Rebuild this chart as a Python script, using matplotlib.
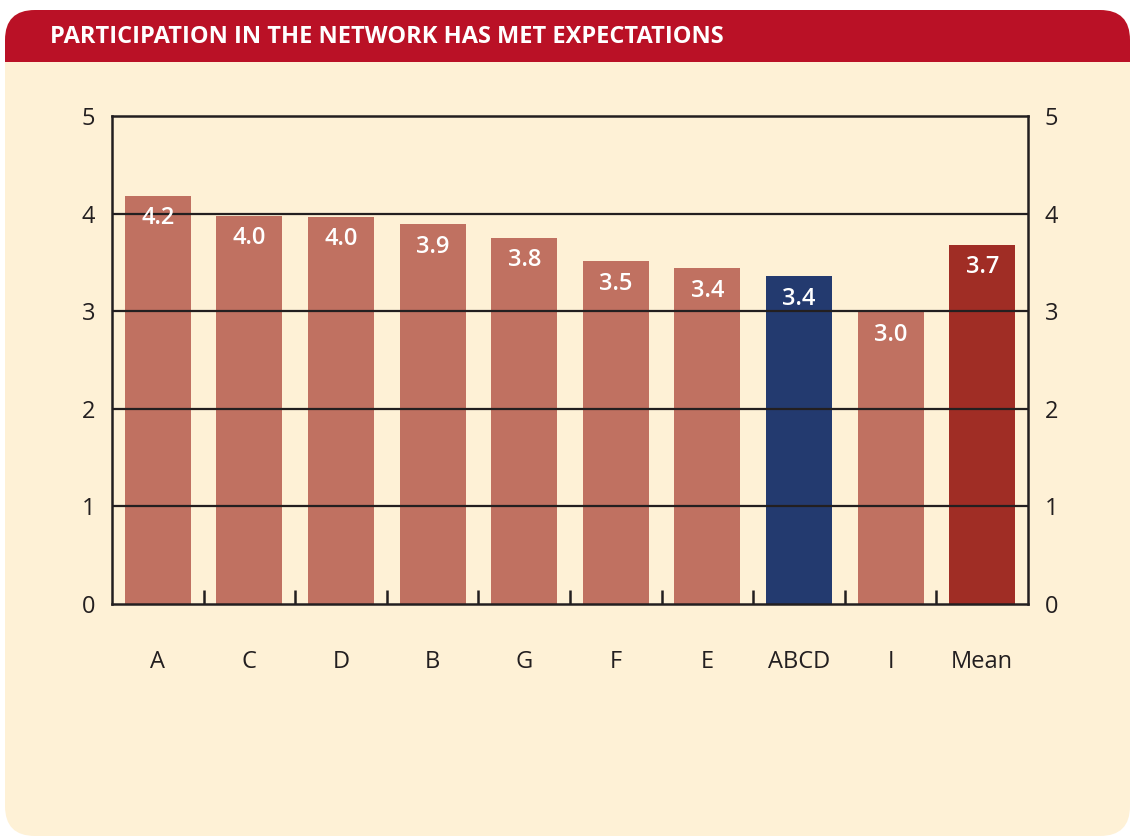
import numpy as np
import matplotlib
matplotlib.use('Agg')
import matplotlib.pyplot as plt
from matplotlib.patches import FancyBboxPatch, Rectangle

#%% Data
categories = ['A', 'C', 'D', 'B', 'G', 'F', 'E', 'ABCD', 'I', 'Mean']
values = [4.18, 3.98, 3.97, 3.89, 3.75, 3.51, 3.44, 3.36, 2.99, 3.68]
labels = ['4.2', '4.0', '4.0', '3.9', '3.8', '3.5', '3.4', '3.4', '3.0', '3.7']
title = 'PARTICIPATION IN THE NETWORK HAS MET EXPECTATIONS'

#%% Colours
cream = '#FEF1D6'
red = '#BA1126'
bar_c = '#C07161'
blue_c = '#233A6F'
mean_c = '#A02D25'
ink = '#231F20'
colors = [bar_c]*10
colors[7] = blue_c
colors[9] = mean_c

plt.rcParams['font.family'] = ['Open Sans', 'DejaVu Sans']

W, H = 1130, 836
fig = plt.figure(figsize=(W/100, H/100), dpi=100)
fig.patch.set_facecolor('white')

# background panel in pixel coords
bg = fig.add_axes([0, 0, 1, 1])
bg.set_xlim(0, W)
bg.set_ylim(H, 0)
bg.axis('off')
bg.add_patch(FancyBboxPatch((5+30, 10+30), 1125-60, 826-60,
                            boxstyle='round,pad=30', fc=cream, ec='none'))
bg.add_patch(FancyBboxPatch((5+30, 10+30), 1125-60, 60,
                            boxstyle='round,pad=30', fc=red, ec='none'))
bg.add_patch(Rectangle((5, 62), 1125, 100, fc=cream, ec='none'))
bg.text(50, 37, title, color='white', fontsize=17, fontweight='bold',
        va='center', ha='left')

#%% Bars
ax = fig.add_axes([112/W, 1-604/H, (1028-112)/W, (604-116)/H])
ax.set_facecolor('none')
x = np.arange(len(categories))
ax.bar(x, values, width=0.72, color=colors, zorder=2)
for xi, v, lab in zip(x, values, labels):
    ax.text(xi, v-0.23, lab, color='white', fontsize=17, fontweight='semibold',
            ha='center', va='center', zorder=4)

for g in [1, 2, 3, 4]:
    ax.axhline(g, color=ink, lw=1.6, zorder=3)

ax.set_xlim(-0.5, 9.5)
ax.set_ylim(0, 5)
for s in ax.spines.values():
    s.set_color(ink)
    s.set_linewidth(1.8)
    s.set_zorder(5)

ax.set_yticks([0, 1, 2, 3, 4, 5])
ax.tick_params(axis='y', length=0, labelsize=17, labelcolor=ink, pad=12,
               labelright=True, right=False)
ax.set_xticks(x[:-1] + 0.5)
ax.set_xticklabels([])
ax.tick_params(axis='x', which='major', direction='in', length=10, width=1.8,
               color=ink)
ax.set_xticks(x, minor=True)
ax.set_xticklabels(categories, minor=True)
ax.tick_params(axis='x', which='minor', length=0, labelsize=17,
               labelcolor=ink, pad=33)

fig.savefig('out.png', dpi=100, facecolor='white')
